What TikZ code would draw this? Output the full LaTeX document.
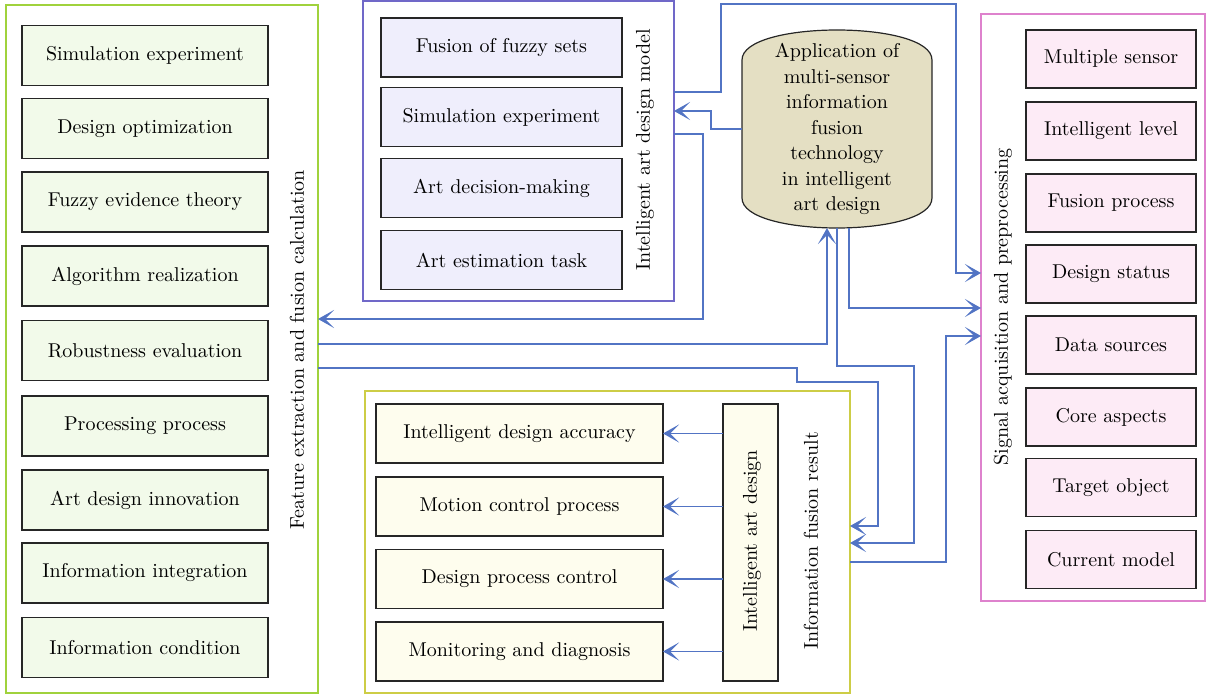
\documentclass[tikz,border=0pt]{standalone}
\usepackage{tikz}
\usetikzlibrary{arrows.meta}
\definecolor{flowblue}{RGB}{82,116,196}
\definecolor{featline}{RGB}{160,210,60}
\definecolor{modelline}{RGB}{112,104,200}
\definecolor{sigline}{RGB}{222,130,205}
\definecolor{resline}{RGB}{205,205,70}
\definecolor{featfill}{RGB}{242,250,234}
\definecolor{modelfill}{RGB}{239,238,252}
\definecolor{sigfill}{RGB}{253,235,246}
\definecolor{resfill}{RGB}{254,253,238}
\definecolor{cylfill}{RGB}{228,223,195}

\begin{document}
\begin{tikzpicture}[x=0.5pt, y=-0.5pt,
  groupbox/.style={draw=#1, line width=0.6pt, inner sep=0pt, outer sep=0pt},
  item/.style={draw=black!85, line width=0.6pt, inner sep=0pt, outer sep=0pt, minimum height=30pt},
  featbox/.style={item, fill=featfill, minimum width=123pt},
  modelbox/.style={item, fill=modelfill, minimum width=120.5pt, minimum height=29.5pt},
  sigbox/.style={item, fill=sigfill, minimum width=85pt, minimum height=29pt},
  resbox/.style={item, fill=resfill, minimum width=143.5pt, minimum height=29.5pt},
  flow/.style={draw=flowblue, line width=0.7pt, -{Stealth[length=8pt, width=9pt, inset=4.5pt]}}]
\useasboundingbox (0,0) rectangle (1207,695);

% Group frames
\node[groupbox=featline, minimum width=156pt, minimum height=344pt] (feat) at (162,349) {};
\node[groupbox=modelline, minimum width=155.5pt, minimum height=150pt] (model) at (518.5,151) {};
\node[groupbox=sigline, minimum width=112pt, minimum height=293.5pt] (sig) at (1093,307.5) {};
\node[groupbox=resline, minimum width=242.5pt, minimum height=151pt] (res) at (607.5,542) {};

% Group titles
\node[rotate=90] (featlabel) at (297,350) {Feature extraction and fusion calculation};
\node[rotate=90] (modellabel) at (645,150) {Intelligent art design model};
\node[rotate=90] (siglabel) at (1003,307) {Signal acquisition and preprocessing};
\node[rotate=90] (reslabel) at (811,541) {Information fusion result};

% Feature extraction boxes
\node[featbox] (f1) at (145,55.5) {Simulation experiment};
\node[featbox] (f2) at (145,128.5) {Design optimization};
\node[featbox] (f3) at (145,202) {Fuzzy evidence theory};
\node[featbox] (f4) at (145,276) {Algorithm realization};
\node[featbox] (f5) at (145,350.5) {Robustness evaluation};
\node[featbox] (f6) at (145,426) {Processing process};
\node[featbox] (f7) at (145,500) {Art design innovation};
\node[featbox] (f8) at (145,573) {Information integration};
\node[featbox] (f9) at (145,647.5) {Information condition};

% Design model boxes
\node[modelbox] (m1) at (501.5,47.5) {Fusion of fuzzy sets};
\node[modelbox] (m2) at (501.5,117) {Simulation experiment};
\node[modelbox] (m3) at (501.5,188) {Art decision-making};
\node[modelbox] (m4) at (501.5,260) {Art estimation task};

% Signal boxes
\node[sigbox] (s1) at (1111,59) {Multiple sensor};
\node[sigbox] (s2) at (1111,131) {Intelligent level};
\node[sigbox] (s3) at (1111,203) {Fusion process};
\node[sigbox] (s4) at (1111,274) {Design status};
\node[sigbox] (s5) at (1111,345) {Data sources};
\node[sigbox] (s6) at (1111,417) {Core aspects};
\node[sigbox] (s7) at (1111,487.5) {Target object};
\node[sigbox] (s8) at (1111,559.5) {Current model};

% Fusion result boxes
\node[resbox] (r1) at (519.5,433.5) {Intelligent design accuracy};
\node[resbox] (r2) at (519.5,506.5) {Motion control process};
\node[resbox] (r3) at (519.5,579) {Design process control};
\node[resbox] (r4) at (519.5,651.5) {Monitoring and diagnosis};
\node[resbox, minimum width=27.5pt, minimum height=138.5pt] (bar) at (750.5,542.5) {};
\node[rotate=90] (barlabel) at (752,541) {Intelligent art design};

% Central cylinder
\draw[draw=black!85, line width=0.6pt, fill=cylfill] (742,60) .. controls (742,20) and (932,20) .. (932,60)
  -- (932,198) .. controls (932,238) and (742,238) .. (742,198) -- cycle;
\node[align=center, minimum width=95pt, minimum height=99pt, inner sep=0pt, outer sep=0pt,
  font=\fontsize{10}{12.75}\selectfont] (app) at (837,129)
  {Application of\\multi-sensor\\information\\fusion\\technology\\in intelligent\\art design};

% Connections
\draw[flow] (app.west) -| (711,111) -- (model.east |- 0,111);
\draw[flow] (model.east |- 0,92) -| (721,4) -| (956,273) -- (sig.west |- 0,273);
\draw[flow] (model.east |- 0,134) -| (703,319) -- (feat.east |- 0,319);
\draw[flow] (feat.east |- 0,344) -| ([xshift=-5pt]app.south);
\draw[flow] (feat.east |- 0,368) -| (797,382) -| (878,526) -- (res.east |- 0,526);
\draw[flow] (app.south) |- (914,366) |- (res.east |- 0,543);
\draw[flow] ([xshift=6pt]app.south) |- (sig.west |- 0,308);
\draw[flow] (res.east |- 0,562) -| (946,336) -- (sig.west |- 0,336);
\foreach \r in {r1,r2,r3,r4}
  \draw[flow] (bar.west |- \r) -- (\r.east);
\end{tikzpicture}
\end{document}
